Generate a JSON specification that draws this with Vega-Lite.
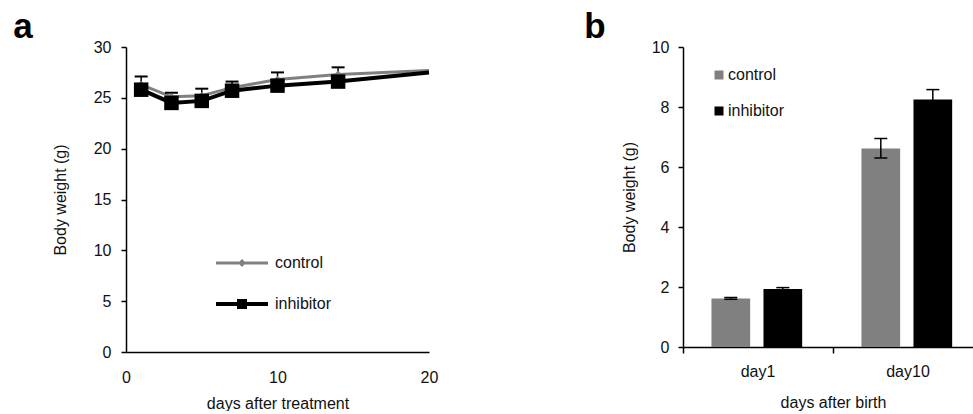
{
  "$schema": "https://vega.github.io/schema/vega-lite/v6.json",
  "padding": {"left": 13, "top": 10, "right": -8, "bottom": 0},
  "background": "white",
  "config": {
    "font": "Liberation Sans",
    "view": {"stroke": null},
    "axis": {
      "grid": false,
      "labelFlush": false,
      "domainColor": "#000000",
      "domainWidth": 1.5,
      "tickColor": "#000000",
      "tickWidth": 1.5,
      "labelColor": "#111111",
      "titleColor": "#111111",
      "labelFontSize": 16,
      "titleFontSize": 16,
      "titleFontWeight": "normal",
      "labelFont": "Liberation Sans",
      "titleFont": "Liberation Sans"
    },
    "title": {"fontSize": 35, "fontWeight": "bold", "anchor": "start", "font": "Liberation Sans", "color": "#000000", "frame": "bounds", "offset": -6},
    "legend": {"labelFont": "Liberation Sans", "labelFontSize": 16, "labelColor": "#111111"}
  },
  "datasets": {
    "growth": [
      {"group": "control", "day": 1, "weight": 26.3, "hi": 27.1},
      {"group": "control", "day": 3, "weight": 25.1, "hi": 25.5},
      {"group": "control", "day": 5, "weight": 25.2, "hi": 25.9},
      {"group": "control", "day": 7, "weight": 26.0, "hi": 26.6},
      {"group": "control", "day": 10, "weight": 26.8, "hi": 27.5},
      {"group": "control", "day": 14, "weight": 27.3, "hi": 28.0},
      {"group": "control", "day": 20, "weight": 27.7, "hi": null},
      {"group": "inhibitor", "day": 1, "weight": 25.8, "hi": null},
      {"group": "inhibitor", "day": 3, "weight": 24.5, "hi": null},
      {"group": "inhibitor", "day": 5, "weight": 24.7, "hi": null},
      {"group": "inhibitor", "day": 7, "weight": 25.7, "hi": null},
      {"group": "inhibitor", "day": 10, "weight": 26.2, "hi": null},
      {"group": "inhibitor", "day": 14, "weight": 26.6, "hi": null},
      {"group": "inhibitor", "day": 20, "weight": 27.5, "hi": null}
    ],
    "birth": [
      {"day": "day1", "group": "control", "weight": 1.62, "lo": 1.59, "hi": 1.65},
      {"day": "day1", "group": "inhibitor", "weight": 1.93, "lo": 1.88, "hi": 1.98},
      {"day": "day10", "group": "control", "weight": 6.62, "lo": 6.3, "hi": 6.95},
      {"day": "day10", "group": "inhibitor", "weight": 8.25, "lo": 7.92, "hi": 8.58}
    ]
  },
  "spacing": 146,
  "resolve": {"scale": {"color": "independent"}, "legend": {"color": "independent"}},
  "hconcat": [
    {
      "title": {"text": "a", "dx": -39},
      "width": 303,
      "height": 305,
      "data": {"name": "growth"},
      "encoding": {
        "x": {"field": "day", "type": "quantitative", "scale": {"domain": [0, 20], "nice": false},
              "axis": {"values": [0, 10, 20], "ticks": false, "labelPadding": 17, "title": "days after treatment", "titlePadding": 10}},
        "y": {"field": "weight", "type": "quantitative", "scale": {"domain": [0, 30], "nice": false},
              "axis": {"values": [0, 5, 10, 15, 20, 25, 30], "tickSize": 5, "labelPadding": 10, "title": "Body weight (g)", "titlePadding": 25}}
      },
      "layer": [
        {
          "mark": {"type": "line", "strokeCap": "butt"},
          "encoding": {
            "color": {"field": "group", "type": "nominal",
              "scale": {"domain": ["control", "inhibitor"], "range": ["#808080", "#000000"]},
              "legend": {
                "orient": "none", "legendX": 108, "legendY": 208, "title": null, "padding": 0,
                "symbolSize": 676, "labelOffset": 25, "rowPadding": 22, "symbolType": "M-2,0H2",
                "encode": {"symbols": {"update": {
                  "shape": {"signal": "datum.value === 'control' ? 'M-2,0H2M0,-0.14L0.14,0L0,0.14L-0.14,0Z' : 'M-2,0H2M-0.23,-0.23H0.23V0.23H-0.23Z'"},
                  "fill": {"signal": "datum.value === 'control' ? '#808080' : '#000000'"},
                  "stroke": {"signal": "datum.value === 'control' ? '#808080' : '#000000'"},
                  "strokeWidth": {"signal": "datum.value === 'control' ? 3 : 4"},
                  "opacity": {"value": 1}
                }}}
              }},
            "strokeWidth": {"field": "group", "type": "nominal",
              "scale": {"domain": ["control", "inhibitor"], "range": [3, 4]}, "legend": null}
          }
        },
        {
          "transform": [{"filter": "datum.hi != null"}],
          "mark": {"type": "rule", "color": "#000000", "strokeWidth": 1.5},
          "encoding": {"y2": {"field": "hi"}}
        },
        {
          "transform": [{"filter": "datum.hi != null"}],
          "mark": {"type": "tick", "orient": "horizontal", "color": "#000000", "thickness": 2, "size": 13, "opacity": 1},
          "encoding": {"y": {"field": "hi", "type": "quantitative"}}
        },
        {
          "transform": [{"filter": "datum.group === 'control' && datum.day < 20"}],
          "mark": {"type": "point", "shape": "diamond", "filled": true, "color": "#808080", "size": 60, "opacity": 1}
        },
        {
          "transform": [{"filter": "datum.group === 'inhibitor' && datum.day < 20"}],
          "mark": {"type": "point", "shape": "square", "filled": true, "color": "#000000", "size": 210, "opacity": 1}
        }
      ]
    },
    {
      "title": {"text": "b", "dx": -37},
      "width": 292,
      "height": 300,
      "data": {"name": "birth"},
      "encoding": {
        "x": {"field": "day", "type": "nominal", "sort": ["day1", "day10"],
              "scale": {"paddingInner": 0, "paddingOuter": 0, "range": [0, 300]},
              "axis": {"bandPosition": 0, "labelAngle": 0, "tickSize": 6, "labelPadding": 10, "title": "days after birth", "titlePadding": 15}},
        "xOffset": {"field": "group", "type": "nominal", "sort": ["control", "inhibitor"],
              "scale": {"paddingInner": 0.256, "paddingOuter": 0.57, "align": 0.48}},
        "y": {"field": "weight", "type": "quantitative", "scale": {"domain": [0, 10], "nice": false},
              "axis": {"values": [0, 2, 4, 6, 8, 10], "tickSize": 5, "labelPadding": 9, "title": "Body weight (g)", "titlePadding": 14}}
      },
      "layer": [
        {
          "mark": {"type": "bar"},
          "encoding": {
            "color": {"field": "group", "type": "nominal",
              "scale": {"domain": ["control", "inhibitor"], "range": ["#808080", "#000000"]},
              "legend": {"orient": "none", "legendX": 28, "legendY": 20, "title": null, "padding": 0,
                         "symbolType": "square", "symbolSize": 81, "symbolStrokeWidth": 0, "symbolOpacity": 1,
                         "labelOffset": 1, "rowPadding": 20}}
          }
        },
        {
          "mark": {"type": "rule", "color": "#000000", "strokeWidth": 1.5},
          "encoding": {"y": {"field": "lo", "type": "quantitative"}, "y2": {"field": "hi"}}
        },
        {
          "mark": {"type": "tick", "orient": "horizontal", "color": "#000000", "thickness": 1.5, "size": 13, "opacity": 1},
          "encoding": {"y": {"field": "lo", "type": "quantitative"}}
        },
        {
          "mark": {"type": "tick", "orient": "horizontal", "color": "#000000", "thickness": 1.5, "size": 13, "opacity": 1},
          "encoding": {"y": {"field": "hi", "type": "quantitative"}}
        }
      ]
    }
  ]
}
